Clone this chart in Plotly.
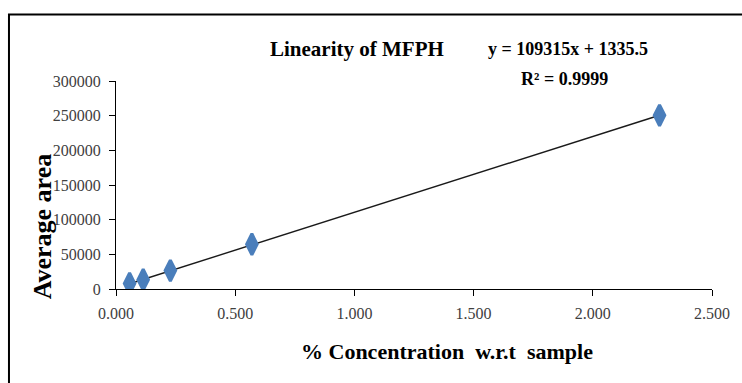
import plotly.graph_objects as go

# Calibration data: % concentration vs. average peak area
conc = [0.057, 0.114, 0.228, 0.570, 2.280]
area = [8000, 13500, 26600, 64500, 250500]

# Linear fit reported on the chart
slope = 109315
intercept = 1335.5
r_squared = "0.9999"

x_ticks = [0.0, 0.5, 1.0, 1.5, 2.0, 2.5]
y_ticks = [0, 50000, 100000, 150000, 200000, 250000, 300000]

W, H = 742, 383
ML, MR, MT, MB = 116, 19, 81, 94
PW, PH = W - ML - MR, H - MT - MB


def px(x):
    return (x - ML) / PW


def py(y):
    return (H - MB - y) / PH


SERIF = "'Liberation Serif', 'Times New Roman', Times, serif"

fig = go.Figure()

# Trend line over the measured range
fit_x = [min(conc), max(conc)]
fit_y = [slope * v + intercept for v in fit_x]
fig.add_trace(go.Scatter(
    x=fit_x, y=fit_y, mode="lines",
    line=dict(color="#1a1a1a", width=1.4),
    hoverinfo="skip", showlegend=False,
))

fig.add_trace(go.Scatter(
    x=conc, y=area, mode="markers",
    marker=dict(symbol="diamond-tall", size=15, color="#4A7EBB",
                line=dict(color="#4A7EBB", width=3)),
    showlegend=False,
))

axis_font = dict(family=SERIF, size=16, color="#404040")

fig.update_xaxes(
    range=[0, 2.5], tickvals=x_ticks, tickformat=".3f",
    showgrid=False, zeroline=False, showline=True,
    linecolor="black", linewidth=1, ticks="outside", ticklen=6,
    tickcolor="black", tickfont=axis_font, ticklabelstandoff=4,
)
fig.update_yaxes(
    range=[0, 300000], tickvals=y_ticks, tickformat="d",
    showgrid=False, zeroline=False, showline=True,
    linecolor="black", linewidth=1, ticks="outside", ticklen=6,
    tickcolor="black", tickfont=axis_font, ticklabelstandoff=5,
)

annotations = [
    dict(text="<b>Linearity of MFPH</b>", x=px(361), y=py(49),
         font=dict(family=SERIF, size=21, color="black")),
    dict(text="<b>y = 109315x + 1335.5</b>", x=px(576), y=py(49),
         font=dict(family=SERIF, size=18, color="black")),
    dict(text="<b>R² = " + r_squared + "</b>", x=px(573), y=py(79),
         font=dict(family=SERIF, size=18, color="black")),
    dict(text="<b>% Concentration\u00a0\u00a0w.r.t\u00a0\u00a0sample</b>",
         x=px(453), y=py(351),
         font=dict(family=SERIF, size=22, color="black")),
    dict(text="<b>Average area</b>", x=px(41), y=py(226), textangle=-90,
         font=dict(family=SERIF, size=26, color="black")),
]
for a in annotations:
    a.update(xref="paper", yref="paper", showarrow=False,
             xanchor="center", yanchor="middle")

fig.update_layout(
    width=W, height=H,
    margin=dict(l=ML, r=MR, t=MT, b=MB, pad=0),
    paper_bgcolor="white", plot_bgcolor="white",
    annotations=annotations,
    shapes=[dict(type="rect", xref="paper", yref="paper",
                 x0=px(7), x1=px(760), y0=py(400), y1=py(14.5),
                 line=dict(color="black", width=2), layer="above")],
)

fig.write_html("out.html")
